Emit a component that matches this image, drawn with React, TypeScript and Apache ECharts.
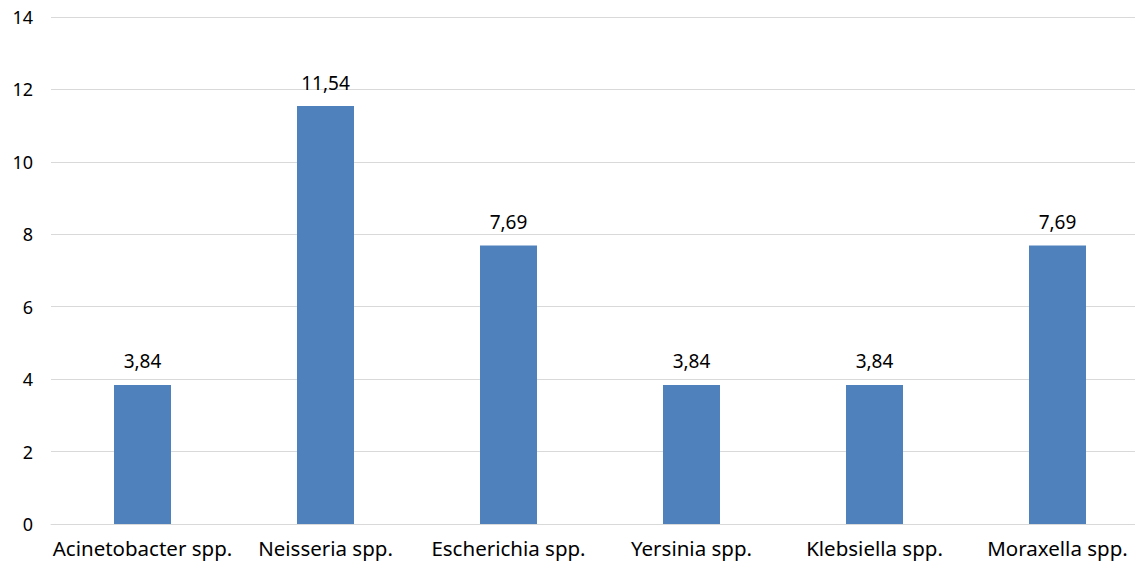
import React, { useEffect, useRef } from "react";
import * as echarts from "echarts";

const categories = [
  "Acinetobacter spp.",
  "Neisseria spp.",
  "Escherichia spp.",
  "Yersinia spp.",
  "Klebsiella spp.",
  "Moraxella spp.",
];
const values = [3.84, 11.54, 7.69, 3.84, 3.84, 7.69];

const FONT = "'Noto Sans', 'Open Sans', sans-serif";

export default function App() {
  const ref = useRef<HTMLDivElement>(null);
  useEffect(() => {
    if (!ref.current) return;
    const chart = echarts.init(ref.current, undefined, { renderer: "svg" });
    chart.setOption({
      animation: false,
      grid: { left: 51, right: 1, top: 17, bottom: 38, containLabel: false },
      xAxis: {
        type: "category",
        data: categories,
        axisLine: { show: true, lineStyle: { color: "#D9D9D9", width: 1 } },
        axisTick: { show: false },
        axisLabel: { color: "#000", fontSize: 20.5, fontFamily: FONT, margin: 13, interval: 0 },
      },
      yAxis: {
        type: "value",
        min: 0,
        max: 14,
        interval: 2,
        axisLine: { show: false },
        axisTick: { show: false },
        splitLine: { lineStyle: { color: "#D9D9D9", width: 1 } },
        axisLabel: { color: "#000", fontSize: 18, fontFamily: FONT, margin: 18 },
      },
      series: [
        {
          type: "bar",
          data: values,
          barWidth: 57,
          itemStyle: { color: "#4F81BD" },
          label: {
            show: true,
            position: "top",
            distance: 14,
            color: "#000",
            fontSize: 19,
            fontFamily: FONT,
            formatter: (p: any) => p.value.toFixed(2).replace(".", ","),
          },
        },
      ],
    });
    return () => chart.dispose();
  }, []);
  return (
    <div style={{ width: 1135, height: 562, position: "absolute", left: 0, top: 0, overflow: "hidden" }}>
      <div ref={ref} style={{ width: 1150, height: 562 }} />
    </div>
  );
}
